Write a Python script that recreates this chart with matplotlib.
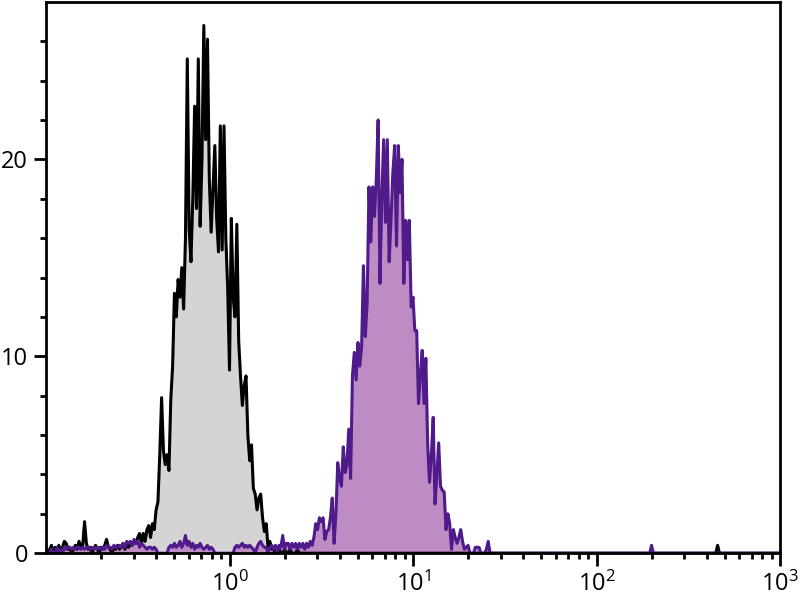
import numpy as np
import matplotlib
matplotlib.use("Agg")
import matplotlib.pyplot as plt
from matplotlib.ticker import FixedLocator, LogLocator, NullFormatter

plt.rcParams["font.family"] = ["Open Sans", "DejaVu Sans"]
plt.rcParams["mathtext.default"] = "regular"

# channel centres on a log10 scale, 0.01 decade apart (-0.99 .. 2.99)
step = 0.01
first_log = -0.99

# unstained control (black line, gray fill), from log10 = -0.99
control_counts = [
    0, 0.2, 0.4, 0, 0.3, 0.2, 0.4, 0, 0.3, 0.6,
    0.5, 0.2, 0.3, 0, 0.2, 0.4, 0.2, 0.6, 0.3, 0.4,
    1.6, 0.5, 0.2, 0.3, 0, 0.2, 0.4, 0.2, 0, 0.3,
    0.2, 0.4, 0.7, 0.3, 0.2, 0, 0.3, 0.2, 0.4, 0.2,
    0.3, 0.5, 0.2, 0.4, 0.3, 0.5, 0.4, 0.6, 0.5,
    # -0.50 ..
    0.8, 1.0, 0.5, 1.0, 0.6, 1.2, 1.4, 0.8, 1.5, 1.2,
    2.2, 2.6, 5.0, 7.9, 5.2, 4.5, 5.0, 4.2, 7.8, 9.5,
    13.2, 12.0, 13.9, 13.0, 14.5, 12.4, 16.0, 25.1, 16.5, 14.8,
    18.0, 22.7, 17.5, 25.1, 16.6, 20.0, 26.8, 21.0, 26.1, 19.0,
    16.3, 18.5, 20.7, 17.0, 15.3, 21.7, 15.4, 21.7, 16.0, 13.5,
    # 0.00 ..
    9.3, 17.0, 13.0, 12.0, 16.7, 10.8, 9.0, 7.5, 8.5, 9.0,
    6.0, 4.7, 5.5, 3.3, 3.0, 2.2, 2.8, 3.0, 1.8, 1.1,
    1.5, 0.3, 0.6, 0.2, 0.2, 0, 0.3, 0.2, 0, 0,
    0.2, 0, 0, 0.2, 0, 0, 0, 0.2, 0, 0,
    0, 0, 0, 0, 0, 0,
]

# stained sample (purple), from log10 = -0.99
stained_counts = [
    0, 0, 0.2, 0, 0, 0.3, 0, 0.2, 0,
    0.3, 0.2, 0.3, 0.3, 0.2, 0.3, 0.2, 0.3, 0.3, 0.2,
    0.3, 0.2, 0.3, 0.3, 0.2, 0.3, 0.2, 0.3, 0.2, 0.3,
    0.2, 0.3, 0.2, 0.4, 0.3, 0.3, 0.2, 0.4, 0.3, 0.3, 0.4, 0.3, 0.5, 0.3, 0.6,
    0.5, 0.6, 0.4, 0.7, 0.5, 0.6, 0.3, 0.5, 0.4, 0.3, 0.2, 0.3,
    0.3, 0.2, 0.3, 0.2, 0, 0, 0, 0, 0,
    0, 0.3, 0.4, 0.3, 0.5, 0.3, 0.4, 0.6, 0.3, 0.5,
    0.9, 0.4, 0.6, 0.3, 0.5, 0.2, 0.4, 0.3, 0.5, 0.3,
    0.2, 0.3, 0.4, 0.2, 0.3, 0.2, 0,
    0, 0, 0, 0, 0, 0, 0, 0, 0, 0,
    0.3, 0.4, 0.3, 0.4, 0.5, 0.3, 0.4, 0.3, 0.4, 0.3,
    0.2, 0, 0.3, 0.5, 0.6, 0.4, 0.3,
    # 0.20 ..
    0.3, 0, 0.3, 0.4, 0.2, 0.4, 0, 0.4, 0.3, 0.9,
    0.2, 0.5, 0.5, 0.2, 0.5, 0.3, 0.5, 0.2, 0.5, 0.3,
    0.5, 0.2, 0.5, 0.3, 0.6, 0.4, 0.8, 1.5, 1.2, 1.8,
    1.6, 1.8, 0.7, 1.1, 1.2, 1.8, 2.8, 0.5, 2.0, 4.6,
    3.8, 3.4, 5.4, 4.1, 4.5, 6.3, 3.8, 9.0, 10.2, 8.8,
    10.7, 9.5, 10.5, 14.6, 11.0, 12.7, 18.6, 15.8, 18.6, 17.1,
    19.0, 22.0, 13.7, 18.0, 21.0, 16.8, 21.0, 14.8, 16.9, 19.3,
    20.7, 15.6, 20.7, 18.3, 20.0, 13.7, 16.9, 14.9, 16.9, 12.5,
    # 1.00 ..
    13.0, 11.3, 11.3, 7.6, 9.0, 10.3, 7.6, 9.9, 5.5, 3.6,
    5.0, 6.9, 2.5, 4.0, 5.6, 3.4, 3.2, 3.1, 1.2, 2.0,
    1.5, 0.2, 1.2, 0.8, 0.5, 0.8, 1.2, 0.6, 0.2, 0.3,
    0.4, 0, 0, 0, 0.3, 0.3, 0.3, 0, 0, 0,
    0.2, 0.6, 0,
]

# isolated high events (log10 position, count)
control_outliers = [(2.66, 0.4)]
stained_outliers = [(2.30, 0.4)]

n_bins = 399
bin_log = first_log + step * np.arange(n_bins)
x = 10 ** bin_log


def full_series(counts, outliers):
    y = np.zeros(n_bins)
    y[:len(counts)] = counts
    for pos, val in outliers:
        y[int(round((pos - first_log) / step))] = val
    return y


control = full_series(control_counts, control_outliers)
stained = full_series(stained_counts, stained_outliers)

fig = plt.figure(figsize=(8, 6), dpi=100)
ax = fig.add_axes([0.0575, 0.078, 0.9175, 0.919])

ax.fill_between(x, control, color="#d4d4d4", linewidth=0)
ax.plot(x, control, color="black", linewidth=2.2)
ax.fill_between(x, stained, color="#bf8bc4", linewidth=0)
ax.plot(x, stained, color="#4f1b8b", linewidth=2.2)

ax.set_xscale("log")
ax.set_xlim(0.1, 1000)
ax.set_ylim(0, 28)

ax.xaxis.set_major_locator(FixedLocator([1, 10, 100, 1000]))
ax.xaxis.set_minor_locator(LogLocator(base=10, subs=np.arange(2, 10)))
ax.xaxis.set_minor_formatter(NullFormatter())
ax.set_xticklabels([r"$10^{0}$", r"$10^{1}$", r"$10^{2}$", r"$10^{3}$"])

ax.set_yticks([0, 10, 20])
ax.set_yticks(np.arange(0, 28, 2), minor=True)

ax.tick_params(axis="both", which="major", length=9, width=2,
               labelsize=17, direction="out", pad=4)
ax.tick_params(axis="both", which="minor", length=4.5, width=2,
               direction="out")

for side in ["left", "right", "top", "bottom"]:
    ax.spines[side].set_linewidth(2)

fig.savefig("out.png", dpi=100)
